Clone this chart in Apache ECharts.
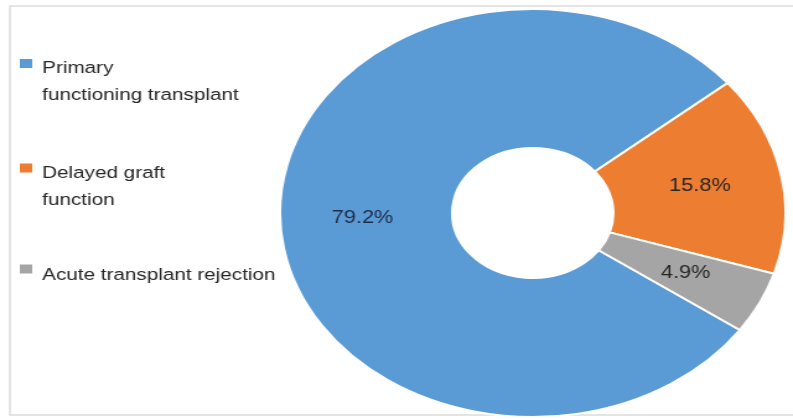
<!DOCTYPE html>
<html>
<head>
<meta charset="utf-8">
<script src="https://cdn.jsdelivr.net/npm/echarts@6/dist/echarts.min.js"></script>
<style>
  html, body { margin: 0; padding: 0; background: #fff; overflow: hidden; }
  #wrap { width: 793px; height: 419px; overflow: hidden; }
  /* the source image is stretched horizontally, so the whole chart is too */
  #chart { width: 640px; height: 419px; transform: scaleX(1.239); transform-origin: 0 0; }
</style>
</head>
<body>
<div id="wrap"><div id="chart"></div></div>
<script>
// ── data ─────────────────────────────────────────
const categories = ['Primary functioning transplant', 'Delayed graft function', 'Acute transplant rejection']
const legendText = ['Primary\nfunctioning transplant', 'Delayed graft\nfunction', 'Acute transplant rejection']
const values     = [79.2, 15.8, 4.9]
const colors     = ['#5b9bd5', '#ed7d31', '#a5a5a5']

// legend layout: one legend per item, square pinned to the first text line
const LINE_H = 27
const legendTops = [55, 159.5, 261.5]

// square at the top of a taller (invisible) icon box so it lines up with line 1
function iconFor(lines) {
  const h = lines > 1 ? 48 : 23
  return { h, path: `path://M0,0H12V11H0Z M0,${h - 0.01}H0.01V${h}H0Z` }
}

const chart = echarts.init(document.getElementById('chart'), null, { renderer: 'canvas' })

const legends = categories.map((name, i) => {
  const ic = iconFor(legendText[i].split('\n').length)
  return {
    left: 14, top: legendTops[i], padding: 0,
    orient: 'vertical', selectedMode: false,
    itemWidth: 12, itemHeight: ic.h, icon: ic.path, symbolKeepAspect: true,
    data: [name],
    formatter: () => legendText[i],
    textStyle: {
      color: '#262626', fontSize: 16.7, lineHeight: LINE_H, padding: [0, 0, 0, 2],
      fontFamily: '"Liberation Sans", Arial, sans-serif',
    },
  }
})

const option = {
  backgroundColor: '#fff',
  animation: false,
  color: colors,
  graphic: [{
    type: 'rect', silent: true,
    shape: { x: 8, y: 6, width: 700, height: 409 },
    style: { fill: 'none', stroke: '#dcdcdc', lineWidth: 1.5 },
  }],
  legend: legends,
  series: [{
    type: 'pie',
    center: [430, 213],
    radius: [65, 204],
    startAngle: 325,
    clockwise: true,
    avoidLabelOverlap: false,
    itemStyle: { borderColor: '#fff', borderWidth: 2 },
    label: {
      show: true, position: 'inside',
      fontSize: 17.5, fontFamily: '"Liberation Sans", Arial, sans-serif',
      color: '#262626',
      formatter: p => p.value.toFixed(1) + '%',
    },
    emphasis: { disabled: true },
    data: categories.map((name, i) => ({
      name, value: values[i],
      label: i === 0 ? { color: '#1f2b47' } : undefined,
    })),
  }],
}
chart.setOption(option)
</script>
</body>
</html>
